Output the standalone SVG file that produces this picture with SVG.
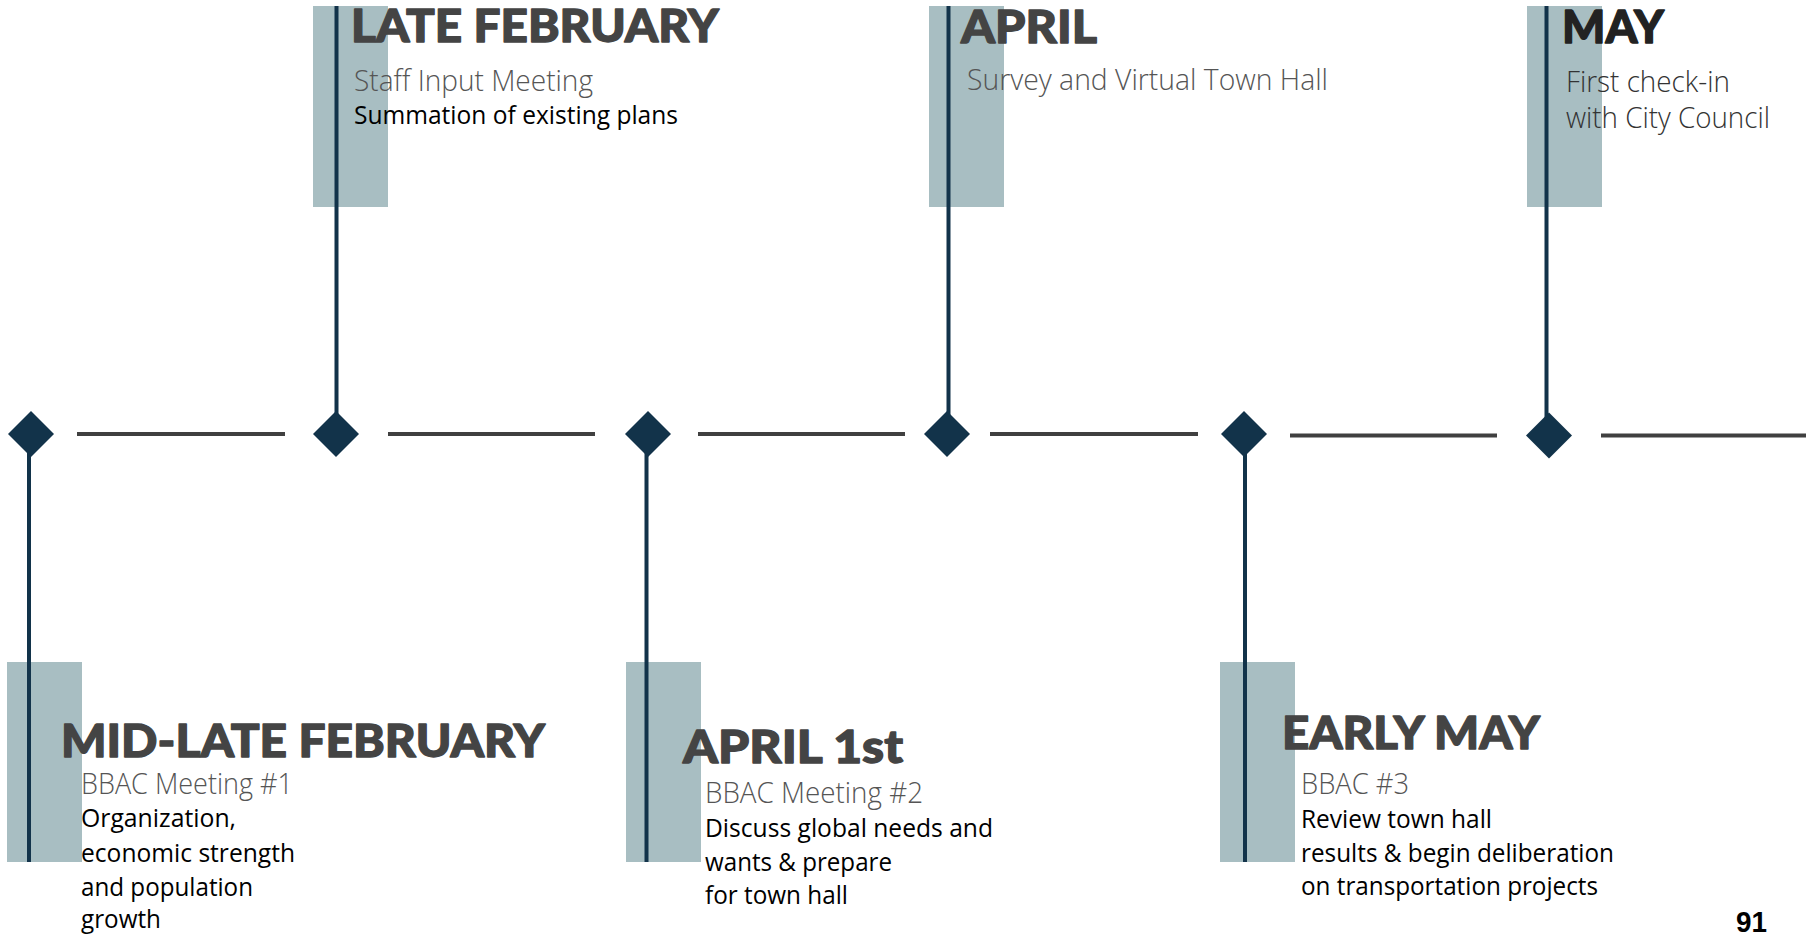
<svg xmlns="http://www.w3.org/2000/svg" width="1806" height="936" viewBox="0 0 1806 936">
  <style>
    .band { fill: #a8bec2; }
    .stem { stroke: #12334a; stroke-width: 4; fill: none; }
    .marker { fill: #12334a; }
    .track { stroke: #404040; stroke-width: 4; fill: none; }
    .head { font-family: Lato, "Open Sans", "Liberation Sans", sans-serif; font-weight: 900; font-size: 46px; fill: #444444; stroke: #444444; stroke-width: 1.3px; stroke-linejoin: round; }
    .sub { font-family: "Open Sans", Lato, "Liberation Sans", sans-serif; font-weight: 300; font-size: 29px; fill: #555555; }
    .body { font-family: "Open Sans", "Noto Sans", "Liberation Sans", sans-serif; font-weight: 400; font-size: 26px; fill: #000000; }
    .page { font-family: "Liberation Sans", Arial, sans-serif; font-weight: bold; font-size: 30px; fill: #000000; }
  </style>

  <rect width="1806" height="936" fill="#ffffff"/>

  <!-- timeline track segments between milestones -->
  <g id="connectors">
    <line class="track" x1="77" y1="434" x2="285" y2="434"/>
    <line class="track" x1="388" y1="434" x2="595" y2="434"/>
    <line class="track" x1="698" y1="434" x2="905" y2="434"/>
    <line class="track" x1="990" y1="434" x2="1198" y2="434"/>
    <line class="track" x1="1290" y1="435.5" x2="1497" y2="435.5"/>
    <line class="track" x1="1601" y1="435.5" x2="1806" y2="435.5"/>
  </g>

  <!-- milestone: mid-late February (below) -->
  <g id="mid-late-february">
    <rect class="band" x="7" y="662" width="75" height="200"/>
    <line class="stem" x1="29" y1="434" x2="29" y2="862"/>
    <polygon class="marker" points="31,411 54,434 31,457 8,434"/>
    <text class="head" x="61" y="757" textLength="484" lengthAdjust="spacingAndGlyphs">MID-LATE FEBRUARY</text>
    <text class="sub" x="81" y="794" textLength="212" lengthAdjust="spacingAndGlyphs">BBAC Meeting #1</text>
    <text class="body" x="81" y="827" textLength="155" lengthAdjust="spacingAndGlyphs">Organization,</text>
    <text class="body" x="81" y="861.5" textLength="214" lengthAdjust="spacingAndGlyphs">economic strength</text>
    <text class="body" x="81" y="896" textLength="172" lengthAdjust="spacingAndGlyphs">and population</text>
    <text class="body" x="81" y="928" textLength="80" lengthAdjust="spacingAndGlyphs">growth</text>
  </g>

  <!-- milestone: late February (above) -->
  <g id="late-february">
    <rect class="band" x="313" y="6" width="75" height="201"/>
    <line class="stem" x1="336.5" y1="6" x2="336.5" y2="434"/>
    <polygon class="marker" points="336,411 359,434 336,457 313,434"/>
    <text class="head" x="351" y="42" textLength="368" lengthAdjust="spacingAndGlyphs">LATE FEBRUARY</text>
    <text class="sub" x="354" y="90.5" textLength="239" lengthAdjust="spacingAndGlyphs">Staff Input Meeting</text>
    <text class="body" x="354" y="124" textLength="324" lengthAdjust="spacingAndGlyphs">Summation of existing plans</text>
  </g>

  <!-- milestone: April 1st (below) -->
  <g id="april-1st">
    <rect class="band" x="626" y="662" width="75" height="200"/>
    <line class="stem" x1="646.5" y1="434" x2="646.5" y2="862"/>
    <polygon class="marker" points="648,411 671,434 648,457 625,434"/>
    <text class="head" x="683" y="762.5" textLength="220" lengthAdjust="spacingAndGlyphs">APRIL 1st</text>
    <text class="sub" x="705" y="803" textLength="218" lengthAdjust="spacingAndGlyphs">BBAC Meeting #2</text>
    <text class="body" x="705" y="836.5" textLength="288" lengthAdjust="spacingAndGlyphs">Discuss global needs and</text>
    <text class="body" x="705" y="870.5" textLength="187" lengthAdjust="spacingAndGlyphs">wants &amp; prepare</text>
    <text class="body" x="705" y="904" textLength="143" lengthAdjust="spacingAndGlyphs">for town hall</text>
  </g>

  <!-- milestone: April (above) -->
  <g id="april">
    <rect class="band" x="929" y="6" width="75" height="201"/>
    <line class="stem" x1="948.5" y1="6" x2="948.5" y2="434"/>
    <polygon class="marker" points="947,411 970,434 947,457 924,434"/>
    <text class="head" x="961" y="42.5" textLength="136" lengthAdjust="spacingAndGlyphs">APRIL</text>
    <text class="sub" x="967" y="90" textLength="361" lengthAdjust="spacingAndGlyphs">Survey and Virtual Town Hall</text>
  </g>

  <!-- milestone: early May (below) -->
  <g id="early-may">
    <rect class="band" x="1220" y="662" width="75" height="200"/>
    <line class="stem" x1="1245" y1="434" x2="1245" y2="862"/>
    <polygon class="marker" points="1244,411 1267,434 1244,457 1221,434"/>
    <text class="head" x="1282" y="749" textLength="258" lengthAdjust="spacingAndGlyphs">EARLY MAY</text>
    <text class="sub" x="1301" y="794" textLength="108" lengthAdjust="spacingAndGlyphs">BBAC #3</text>
    <text class="body" x="1301" y="827.5" textLength="191" lengthAdjust="spacingAndGlyphs">Review town hall</text>
    <text class="body" x="1301" y="861.5" textLength="313" lengthAdjust="spacingAndGlyphs">results &amp; begin deliberation</text>
    <text class="body" x="1301" y="895" textLength="297" lengthAdjust="spacingAndGlyphs">on transportation projects</text>
  </g>

  <!-- milestone: May (above) -->
  <g id="may">
    <rect class="band" x="1527" y="6" width="75" height="201"/>
    <line class="stem" x1="1546.5" y1="6" x2="1546.5" y2="434"/>
    <polygon class="marker" points="1549,412.5 1572,435.5 1549,458.5 1526,435.5"/>
    <text class="head" x="1562" y="42.5" textLength="102" lengthAdjust="spacingAndGlyphs" style="fill:#222222;stroke:#222222">MAY</text>
    <text class="sub" x="1566" y="91.5" textLength="164" lengthAdjust="spacingAndGlyphs" style="fill:#333333">First check-in</text>
    <text class="sub" x="1566" y="128" textLength="204" lengthAdjust="spacingAndGlyphs" style="fill:#333333">with City Council</text>
  </g>

  <!-- page number -->
  <text class="page" x="1736" y="932" textLength="31" lengthAdjust="spacingAndGlyphs">91</text>
</svg>
